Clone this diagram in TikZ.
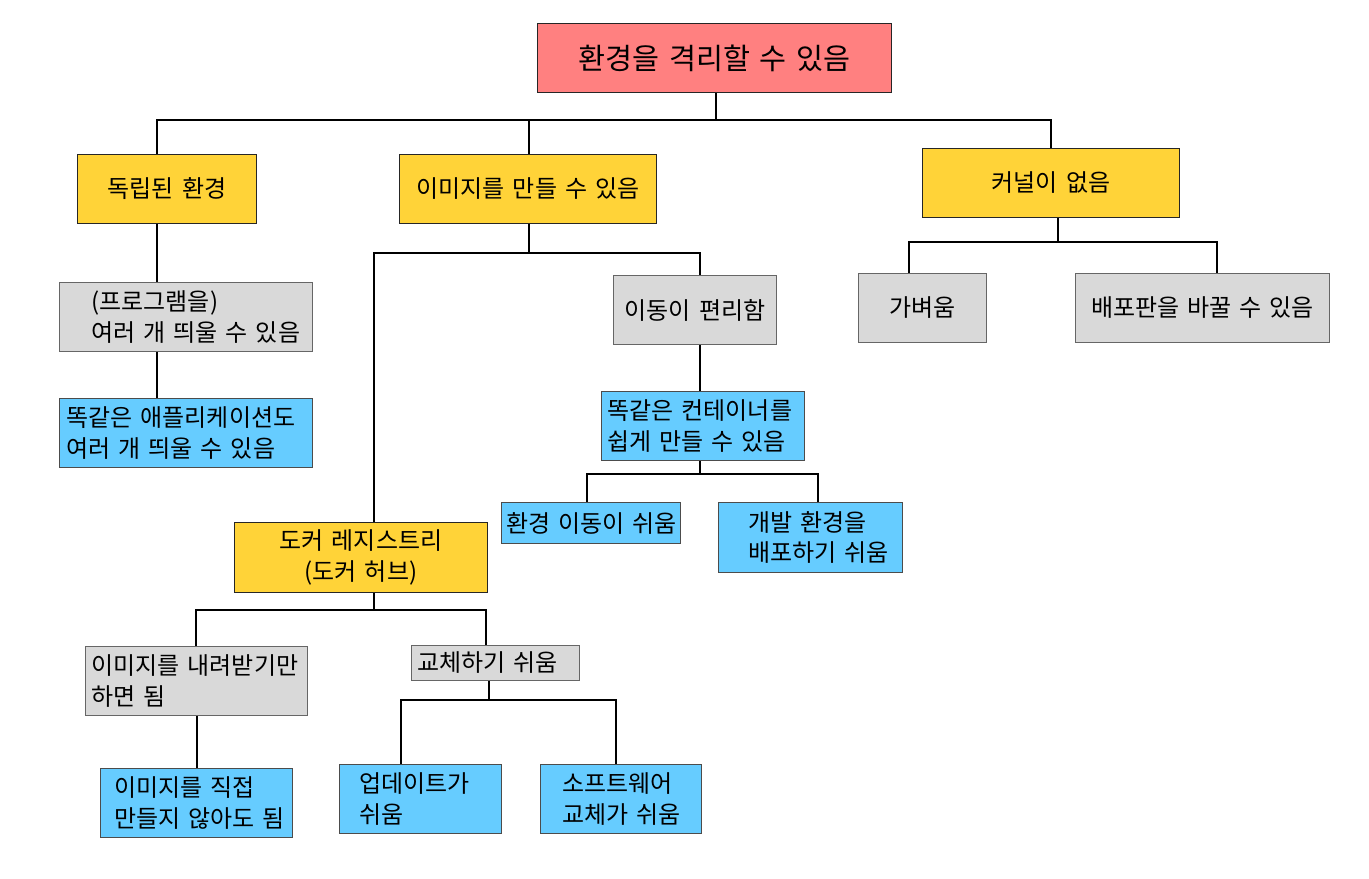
\documentclass[tikz,border=0pt]{standalone}
\usepackage{fontspec}
\setmainfont{Noto Sans CJK KR}
\definecolor{rootred}{HTML}{FF8080}
\definecolor{mainyellow}{HTML}{FFD338}
\definecolor{notegray}{HTML}{D9D9D9}
\definecolor{tipblue}{HTML}{66CCFF}
\newcommand\boxfont{\fontsize{18}{23}\selectfont}
\newcommand\rootfont{\fontsize{22}{26}\selectfont}

\begin{document}
\begin{tikzpicture}[x=0.75pt,y=-0.75pt]
    \tikzstyle{box}=[draw=black!85, line width=0.75pt, anchor=north west, inner xsep=0pt, inner ysep=0pt, font=\boxfont]
    \tikzstyle{pad}=[execute at begin node={\leftskip=#1}]
    \tikzstyle{root box}=[box, fill=rootred, align=center, font=\rootfont]
    \tikzstyle{main box}=[box, fill=mainyellow, align=center]
    \tikzstyle{note box}=[box, fill=notegray, draw=black!60, align=left]
    \tikzstyle{tip box}=[box, fill=tipblue, draw=black!70, align=left]
    \tikzstyle{link}=[draw=black, line width=1.2pt]

    \useasboundingbox (0,0) rectangle (1369,878);

    \node[root box, text width=265.5pt, minimum height=51.75pt] (root) at (537,23) {환경을 격리할 수 있음};

    \node[main box, text width=134.25pt, minimum height=51.75pt] (indep) at (77,154) {독립된 환경};
    \node[main box, text width=192.75pt, minimum height=51.75pt] (image) at (399,154) {이미지를 만들 수 있음};
    \node[main box, text width=192.75pt, minimum height=51.75pt] (kernel) at (922,148) {커널이 없음};

    % left branch
    \node[note box, text width=189.75pt, minimum height=51.75pt, pad=24pt] (multi) at (59,282) {(프로그램을)\\여러 개 띄울 수 있음};
    \node[tip box, text width=189.75pt, minimum height=51.75pt, pad=5.25pt] (multiapp) at (59,398) {똑같은 애플리케이션도\\여러 개 띄울 수 있음};

    % middle branch
    \node[note box, align=center, text width=122.25pt, minimum height=51.75pt] (move) at (613,275) {이동이 편리함};
    \node[tip box, text width=152.25pt, minimum height=51.75pt, pad=4.5pt] (same) at (601,391) {똑같은 컨테이너를\\쉽게 만들 수 있음};
    \node[tip box, text width=134.25pt, minimum height=30.75pt, pad=3.75pt] (envmove) at (501,502) {환경 이동이 쉬움};
    \node[tip box, text width=138pt, minimum height=52.5pt, pad=22.5pt] (deploy) at (718,502) {개발 환경을\\배포하기 쉬움};

    \node[main box, text width=189.75pt, minimum height=52.5pt] (registry) at (234,522) {도커 레지스트리\\(도커 허브)};
    \node[note box, text width=166.5pt, minimum height=51.75pt, pad=4.5pt] (pull) at (85,646) {이미지를 내려받기만\\하면 됨};
    \node[tip box, text width=144pt, minimum height=51.75pt, pad=10.5pt] (nobuild) at (100,768) {이미지를 직접\\만들지 않아도 됨};
    \node[note box, text width=126pt, minimum height=26.25pt, pad=4.5pt] (swap) at (411,645) {교체하기 쉬움};
    \node[tip box, text width=121.5pt, minimum height=51.75pt, pad=15pt] (update) at (339,764) {업데이트가\\쉬움};
    \node[tip box, text width=120.75pt, minimum height=51.75pt, pad=16.5pt] (software) at (540,764) {소프트웨어\\교체가 쉬움};

    % right branch
    \node[note box, align=center, text width=96pt, minimum height=51.75pt] (light) at (858,273) {가벼움};
    \node[note box, align=center, text width=190.5pt, minimum height=51.75pt] (distro) at (1075,273) {배포판을 바꿀 수 있음};

    % connectors
    \foreach \dest/\x in {indep/157, image/529, kernel/1051}
        \draw[link] (root.south -| 716,0) -- ++(0,27) -| (\dest.north -| \x,0);
    \draw[link] (indep.south -| 157,0) -- (multi.north -| 157,0);
    \draw[link] (multi.south -| 157,0) -- (multiapp.north -| 157,0);

    \foreach \dest/\x in {registry/374, move/700}
        \draw[link] (image.south -| 529,0) -- ++(0,29) -| (\dest.north -| \x,0);
    \draw[link] (move.south -| 700,0) -- (same.north -| 700,0);
    \foreach \dest/\x in {envmove/587, deploy/818}
        \draw[link] (same.south -| 700,0) -- ++(0,13) -| (\dest.north -| \x,0);

    \foreach \dest/\x in {pull/196, swap/486}
        \draw[link] (registry.south -| 374,0) -- ++(0,17) -| (\dest.north -| \x,0);
    \draw[link] (pull.south -| 197,0) -- (nobuild.north -| 197,0);
    \foreach \dest/\x in {update/401, software/616}
        \draw[link] (swap.south -| 489,0) -- ++(0,19) -| (\dest.north -| \x,0);

    \foreach \dest/\x in {light/909, distro/1217}
        \draw[link] (kernel.south -| 1058,0) -- ++(0,24) -| (\dest.north -| \x,0);
\end{tikzpicture}
\end{document}
